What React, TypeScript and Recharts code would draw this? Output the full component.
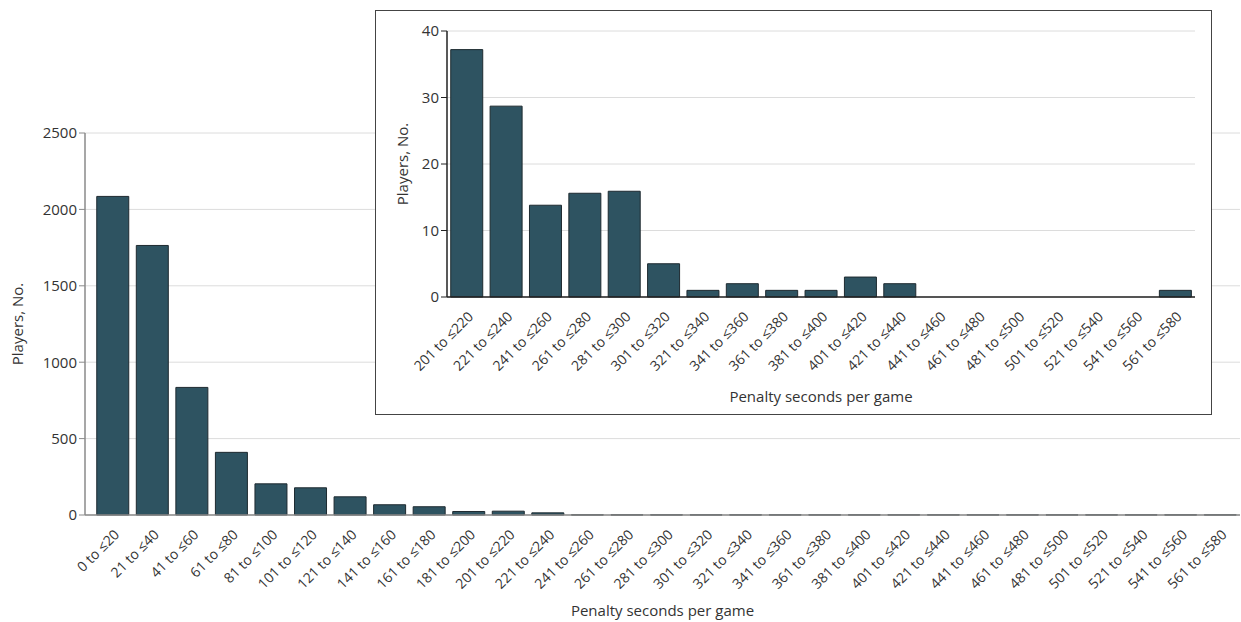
import { BarChart, Bar, XAxis, YAxis, CartesianGrid } from 'recharts';

const mainCategories = [
  '0 to ≤20', '21 to ≤40', '41 to ≤60', '61 to ≤80', '81 to ≤100', '101 to ≤120',
  '121 to ≤140', '141 to ≤160', '161 to ≤180', '181 to ≤200', '201 to ≤220', '221 to ≤240',
  '241 to ≤260', '261 to ≤280', '281 to ≤300', '301 to ≤320', '321 to ≤340', '341 to ≤360',
  '361 to ≤380', '381 to ≤400', '401 to ≤420', '421 to ≤440', '441 to ≤460', '461 to ≤480',
  '481 to ≤500', '501 to ≤520', '521 to ≤540', '541 to ≤560', '561 to ≤580',
];
const mainPlayers = [
  2085, 1764, 835, 410, 204, 178, 119, 67, 54, 23, 25, 14,
  1, 1, 1, 1, 1, 1, 1, 1, 1, 1, 1, 1, 1, 1, 1, 1, 1,
];
const mainTicks = [0, 500, 1000, 1500, 2000, 2500];

const insetCategories = mainCategories.slice(10);
const insetPlayers = [37.2, 28.7, 13.8, 15.6, 15.9, 5, 1, 2, 1, 1, 3, 2, 0, 0, 0, 0, 0, 0, 1];
const insetTicks = [0, 10, 20, 30, 40];

const mainData = mainCategories.map((c, i) => ({ range: c, players: mainPlayers[i] }));
const insetData = insetCategories.map((c, i) => ({ range: c, players: insetPlayers[i] }));

const FONT = '"Open Sans", sans-serif';
const BAR_FILL = '#2e5361';
const BAR_STROKE = '#1e2a30';

const RotTick = ({ x, y, payload }: any) => (
  <g transform={`translate(${x + 4},${y + 9})`}>
    <text
      x={0}
      y={0}
      dy="0.35em"
      textAnchor="end"
      transform="rotate(-45)"
      fontSize={14}
      fill="#333"
      fontFamily={FONT}
    >
      {payload.value}
    </text>
  </g>
);

export default function App() {
  return (
    <div style={{ position: 'absolute', left: 0, top: 0, width: 1241, height: 622, background: '#fff' }}>
      <BarChart
        width={1241}
        height={622}
        data={mainData}
        margin={{ top: 133, right: 1, bottom: 0, left: 0 }}
        barCategoryGap="9.5%"
      >
        <CartesianGrid vertical={false} stroke="#dcdcdc" />
        <XAxis
          dataKey="range"
          interval={0}
          height={107}
          tick={<RotTick />}
          tickLine={false}
          axisLine={{ stroke: '#8a8a8a', strokeWidth: 1.5 }}
          padding={{ left: 8, right: 0 }}
          label={{
            value: 'Penalty seconds per game',
            position: 'insideBottom',
            offset: 6,
            style: { fontSize: 15, fill: '#333', fontFamily: FONT },
          }}
        />
        <YAxis
          width={85}
          domain={[0, 2500]}
          ticks={mainTicks}
          tickSize={6}
          tickLine={{ stroke: '#8a8a8a' }}
          axisLine={{ stroke: '#8a8a8a', strokeWidth: 1.5 }}
          tick={{ fontSize: 15, fill: '#333', fontFamily: FONT }}
          label={{
            value: 'Players, No.',
            angle: -90,
            position: 'insideLeft',
            offset: 18,
            style: { textAnchor: 'middle', fontSize: 15, fill: '#333', fontFamily: FONT },
          }}
        />
        <Bar dataKey="players" fill={BAR_FILL} stroke={BAR_STROKE} strokeWidth={1} isAnimationActive={false} />
      </BarChart>

      <div
        style={{
          position: 'absolute',
          left: 375,
          top: 10,
          width: 835,
          height: 403,
          border: '1px solid #444',
          background: '#fff',
        }}
      >
        <BarChart
          width={835}
          height={403}
          data={insetData}
          margin={{ top: 20, right: 16, bottom: 0, left: 0 }}
          barCategoryGap="9.5%"
        >
          <CartesianGrid vertical={false} stroke="#dcdcdc" />
          <XAxis
            dataKey="range"
            interval={0}
            height={117}
            tick={<RotTick />}
            tickLine={false}
            axisLine={{ stroke: '#222', strokeWidth: 1.5 }}
            label={{
              value: 'Penalty seconds per game',
              position: 'insideBottom',
              offset: 12,
              style: { fontSize: 15, fill: '#333', fontFamily: FONT },
            }}
          />
          <YAxis
            width={71}
            domain={[0, 40]}
            ticks={insetTicks}
            tickSize={6}
            tickLine={{ stroke: '#222' }}
            axisLine={{ stroke: '#222', strokeWidth: 1.5 }}
            tick={{ fontSize: 15, fill: '#333', fontFamily: FONT }}
            label={{
              value: 'Players, No.',
              angle: -90,
              position: 'insideLeft',
              offset: 27,
              style: { textAnchor: 'middle', fontSize: 15, fill: '#333', fontFamily: FONT },
            }}
          />
          <Bar dataKey="players" fill={BAR_FILL} stroke={BAR_STROKE} strokeWidth={1} isAnimationActive={false} />
        </BarChart>
      </div>
    </div>
  );
}
